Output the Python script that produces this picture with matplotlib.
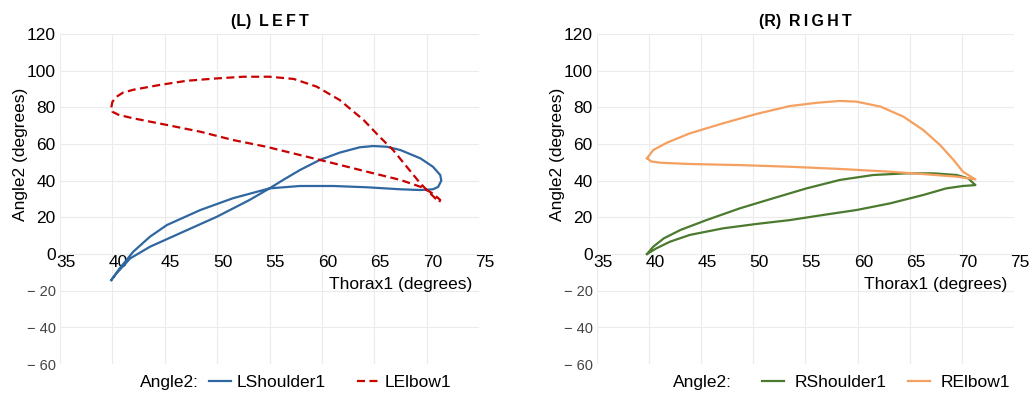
import numpy as np
import matplotlib
matplotlib.use("Agg")
import matplotlib.pyplot as plt
import matplotlib.transforms as mtransforms

plt.rcParams['font.family'] = ['Liberation Sans', 'DejaVu Sans']

# LShoulder1 loop (Thorax1, Angle2)
ls_x = [39.9, 40.7, 42.0, 43.6, 45.2, 48.4, 51.5, 55.0, 57.9, 61.1, 64.3, 67.5, 69.4, 70.6,
        71.1, 71.4, 71.3, 70.6, 69.4, 67.5, 66.2, 64.9, 63.6, 61.7, 59.8, 57.9, 56.3, 55.0,
        53.1, 50.0, 46.8, 43.6, 41.7, 40.4, 39.9]
ls_y = [-14.2, -7.8, 1.3, 9.5, 15.8, 24.0, 30.4, 35.8, 37.1, 37.1, 36.4, 35.3, 34.9, 35.3,
        36.6, 40.0, 43.1, 47.6, 52.2, 56.7, 58.5, 58.9, 58.2, 55.3, 51.3, 45.8, 40.4, 35.8,
        29.5, 20.4, 12.2, 4.0, -2.4, -10.5, -14.2]

# LElbow1 loop
le_x = [39.9, 40.0, 40.4, 41.0, 42.0, 44.5, 47.1, 50.0, 52.5, 55.0, 57.3, 59.5, 61.7, 64.0,
        65.5, 66.8, 68.1, 69.4, 70.5, 71.2, 71.3, 70.6, 69.4, 67.5, 64.3, 61.1, 57.9, 54.7,
        51.5, 48.4, 45.2, 42.0, 40.6, 40.0, 39.9]
le_y = [80.0, 83.0, 85.8, 88.0, 89.6, 92.2, 94.5, 95.8, 96.7, 96.7, 95.5, 91.3, 84.0, 73.0,
        64.0, 56.7, 47.6, 38.5, 32.2, 28.3, 29.5, 33.0, 36.7, 40.4, 44.9, 49.5, 54.0, 58.5,
        62.2, 66.7, 70.4, 74.0, 75.9, 77.6, 80.0]

# RShoulder1 loop
rs_x = [39.8, 40.4, 41.4, 43.0, 45.5, 48.7, 51.9, 55.1, 58.3, 61.5, 64.7, 67.3, 69.5, 70.6,
        71.3, 70.1, 68.5, 66.3, 63.1, 59.9, 56.7, 53.5, 50.3, 47.1, 43.9, 42.0, 40.7, 39.8]
rs_y = [0.0, 4.0, 8.5, 13.1, 18.5, 24.9, 30.4, 35.8, 40.4, 43.1, 44.0, 44.0, 43.1, 41.3,
        37.6, 37.1, 35.8, 32.2, 27.6, 24.0, 21.3, 18.5, 16.4, 14.0, 10.4, 6.7, 3.1, 0.0]

# RElbow1 loop
re_x = [39.8, 40.4, 41.7, 43.9, 47.1, 50.3, 53.5, 56.1, 58.3, 59.9, 62.2, 64.4, 66.3, 67.9,
        69.2, 70.1, 71.3, 69.5, 66.3, 63.1, 58.3, 53.5, 48.7, 43.9, 41.1, 40.2, 39.8]
re_y = [52.2, 56.7, 60.7, 65.8, 71.3, 76.4, 80.7, 82.5, 83.5, 83.1, 80.4, 74.9, 67.6, 59.5,
        51.3, 44.9, 40.7, 42.2, 43.6, 44.9, 46.4, 47.6, 48.5, 49.1, 49.8, 50.5, 52.2]

xticks = [35, 40, 45, 50, 55, 60, 65, 70, 75]
yticks = [-60, -40, -20, 0, 20, 40, 60, 80, 100, 120]

c_blue = '#2f67a0'
c_red = '#c80000'
c_green = '#4b7a2e'
c_orange = '#f5a060'

fig = plt.figure(figsize=(10.33, 3.96), dpi=100)
ax1 = fig.add_axes([0.0581, 0.0808, 0.4056, 0.8333])
ax2 = fig.add_axes([0.5779, 0.0808, 0.4037, 0.8333])


def style(ax, title):
    ax.set_xlim(35, 75)
    ax.set_ylim(-60, 120)
    for s in ax.spines.values():
        s.set_visible(False)
    ax.set_xticks(xticks)
    ax.set_yticks(yticks)
    ax.grid(True, color='#ebebeb', lw=0.8)
    ax.set_axisbelow(True)
    ax.spines['bottom'].set_position(('data', 0))
    ax.tick_params(axis='both', length=0)
    ax.tick_params(axis='x', pad=1, labelsize=12.5)
    ax.tick_params(axis='y', pad=3)
    off = mtransforms.ScaledTranslation(6 / 100, 0, fig.dpi_scale_trans)
    for lab in ax.get_xticklabels():
        lab.set_transform(lab.get_transform() + off)
    labs = []
    for v in yticks:
        labs.append(str(v) if v >= 0 else '\u2212 ' + str(-v))
    ax.set_yticklabels(labs)
    for v, lab in zip(yticks, ax.get_yticklabels()):
        if v < 0:
            lab.set_color('#444444')
            lab.set_fontsize(10.5)
        else:
            lab.set_fontsize(12.5)
    ax.text(1.0 - 0.017, 0.242, 'Thorax1 (degrees)', transform=ax.transAxes,
            ha='right', va='center', fontsize=12.5)
    ax.text(-0.095, 0.635, 'Angle2 (degrees)', transform=ax.transAxes,
            ha='center', va='center', rotation=90, fontsize=12.5)
    ax.set_title(title, fontsize=11.5, fontweight='bold', pad=6)


style(ax1, '(L)\u2009 L\u2009E\u2009F\u2009T')
style(ax2, '(R)\u2009 R\u2009I\u2009G\u2009H\u2009T')

kw = dict(lw=1.6, solid_joinstyle='round', dash_joinstyle='round')
ax1.plot(ls_x, ls_y, color=c_blue, label='LShoulder1', **kw)
ax1.plot(le_x, le_y, color=c_red, dashes=(3.6, 2.0), label='LElbow1', **kw)
ax2.plot(rs_x, rs_y, color=c_green, label='RShoulder1', **kw)
ax2.plot(re_x, re_y, color=c_orange, label='RElbow1', **kw)

ax1.legend(loc='center left', bbox_to_anchor=(0.355, -0.055), ncol=2, frameon=False,
           fontsize=12.5, handlelength=1.3, handletextpad=0.3, columnspacing=1.8,
           borderaxespad=0, borderpad=0)
ax1.text(0.192, -0.055, 'Angle2:', transform=ax1.transAxes, ha='left', va='center', fontsize=12.5)

ax2.legend(loc='center left', bbox_to_anchor=(0.395, -0.055), ncol=2, frameon=False,
           fontsize=12.5, handlelength=1.3, handletextpad=0.6, columnspacing=1.2,
           borderaxespad=0, borderpad=0)
ax2.text(0.182, -0.055, 'Angle2:', transform=ax2.transAxes, ha='left', va='center', fontsize=12.5)

fig.savefig('out.png', dpi=100)
